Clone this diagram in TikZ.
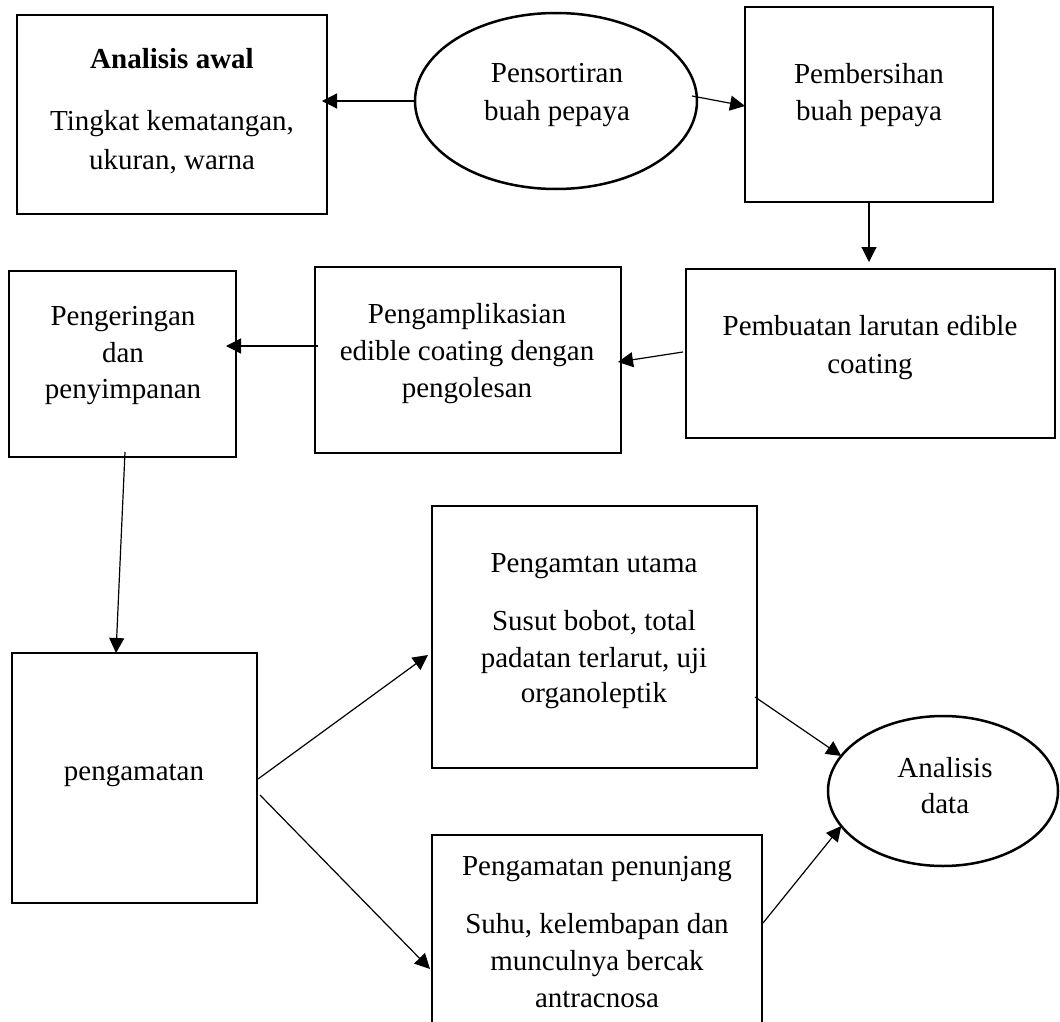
\documentclass[tikz,border=0pt]{standalone}
\usepackage{fontspec}
\setmainfont{Liberation Serif}
\usetikzlibrary{shapes.geometric,arrows.meta,calc}
\begin{document}
\begin{tikzpicture}[x=1pt,y=-1pt,
  box/.style={draw, line width=2.5pt, rectangle, inner sep=0pt, outer sep=0pt},
  oval/.style={draw, line width=2.5pt, ellipse, inner sep=0pt, outer sep=0pt},
  txt/.style={anchor=base, inner sep=0pt, font=\fontsize{29}{35}\selectfont},
  arr/.style={line width=1.2pt, -{Triangle[length=15pt,width=15pt]}}]
\fill[white] (0,0) rectangle (1060,1022);
\useasboundingbox (0,0) rectangle (1060,1022);

% shapes
\node[box, minimum width=310, minimum height=199] (awal) at (172,114.5) {};
\node[oval, minimum width=282, minimum height=176] (sort) at (556,101) {};
\node[box, minimum width=248, minimum height=195] (bersih) at (869,104.5) {};
\node[box, minimum width=369, minimum height=169] (buat) at (870.5,353.5) {};
\node[box, minimum width=306, minimum height=186] (ampl) at (468,360) {};
\node[box, minimum width=227, minimum height=186] (kering) at (122.5,364) {};
\node[box, minimum width=245, minimum height=250] (amat) at (134.5,778) {};
\node[box, minimum width=325, minimum height=262] (utama) at (594.5,637) {};
\node[box, minimum width=330, minimum height=240] (tunjang) at (597,955) {};
\node[oval, minimum width=230, minimum height=150] (data) at (943,791) {};

% texts
\node[txt] (awal-h) at (172,69) {\textbf{Analisis awal}};
\node[txt] (awal-1) at (172,131) {Tingkat kematangan,};
\node[txt] (awal-2) at (172,169) {ukuran, warna};
\node[txt] (sort-1) at (557,83) {Pensortiran};
\node[txt] (sort-2) at (557,121) {buah pepaya};
\node[txt] (bersih-1) at (869,84) {Pembersihan};
\node[txt] (bersih-2) at (869,121) {buah pepaya};
\node[txt] (buat-1) at (870,335) {Pembuatan larutan edible};
\node[txt] (buat-2) at (870,373) {coating};
\node[txt] (ampl-1) at (467,323) {Pengamplikasian};
\node[txt] (ampl-2) at (467,360) {edible coating dengan};
\node[txt] (ampl-3) at (467,397) {pengolesan};
\node[txt] (kering-1) at (123,325) {Pengeringan};
\node[txt] (kering-2) at (123,362) {dan};
\node[txt] (kering-3) at (123,398) {penyimpanan};
\node[txt] (amat-1) at (134,780) {pengamatan};
\node[txt] (utama-h) at (594,572) {Pengamtan utama};
\node[txt] (utama-1) at (594,630) {Susut bobot, total};
\node[txt] (utama-2) at (594,667) {padatan terlarut, uji};
\node[txt] (utama-3) at (594,702) {organoleptik};
\node[txt] (tunjang-h) at (597,875) {Pengamatan penunjang};
\node[txt] (tunjang-1) at (597,933) {Suhu, kelembapan dan};
\node[txt] (tunjang-2) at (597,970) {munculnya bercak};
\node[txt] (tunjang-3) at (597,1007) {antracnosa};
\node[txt] (data-1) at (945,777) {Analisis};
\node[txt] (data-2) at (945,813) {data};

% connectors
\draw[arr] (sort.west) -- ($(awal.east |- sort.west)+(-5,0)$);
\draw[arr] ($(sort.east)+(-5,-5)$) -- ($(bersih.west)+(0,1.5)$);
\draw[arr] (bersih.south) -- ($(bersih.south |- buat.north)+(0,-7)$);
\draw[arr] ($(buat.west)+(-3,-1.5)$) -- ($(ampl.east)+(-3,2)$);
\draw[arr] ($(ampl.west)+(3,-14)$) -- ($(kering.east)+(-10,-18)$);
\draw[arr] ($(kering.south)+(2.5,-5)$) -- ($(amat.north)+(-18.5,0)$);
\draw[arr] ($(amat.east)+(1,1)$) -- ($(utama.west)+(-4,18)$);
\draw[arr] ($(amat.east)+(3,17)$) -- ($(tunjang.west)+(-2,14)$);
\draw[arr] ($(utama.east)+(-2,60)$) -- (data.161);
\draw[arr] ($(tunjang.east)+(1,-32)$) -- (data.199);
\end{tikzpicture}
\end{document}
